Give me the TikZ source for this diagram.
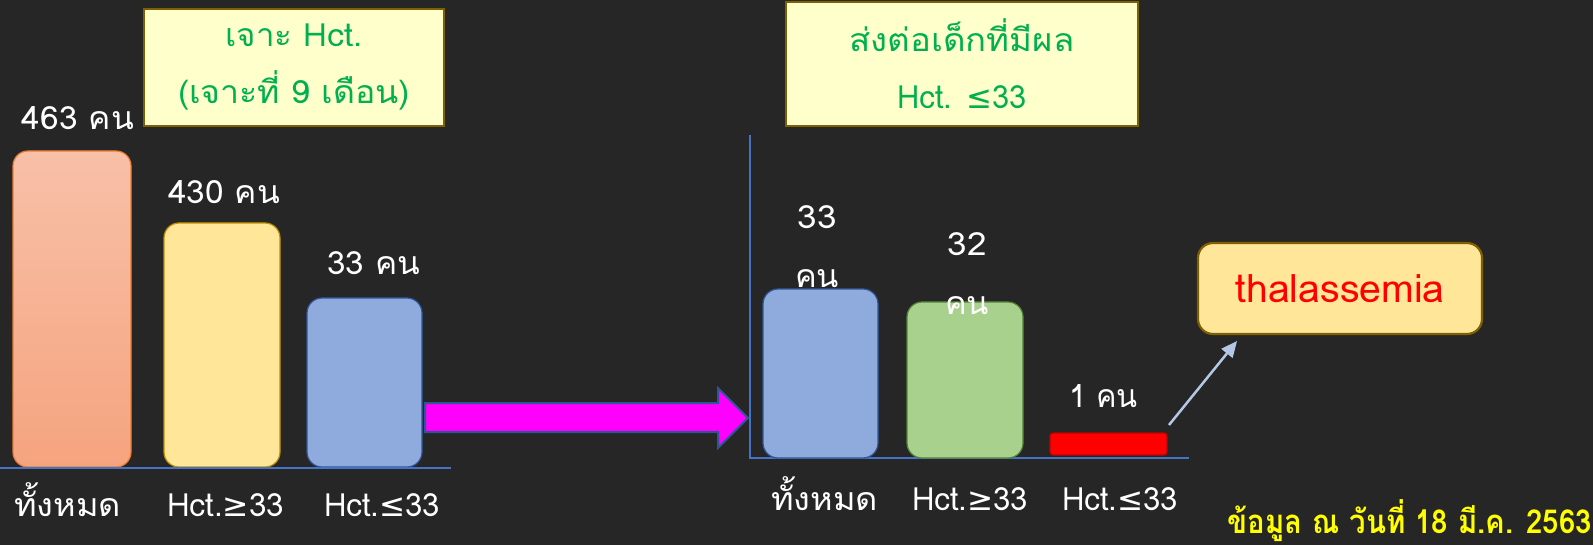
\documentclass[tikz,border=0pt]{standalone}
\usepackage{fontspec}
\usepackage{graphicx}
\setmainfont[Script=Thai]{Loma}
\newfontfamily\symf{DejaVu Sans}
\usetikzlibrary{arrows.meta}
\newcommand{\geqs}{{\symf ≥}}
\newcommand{\leqs}{{\symf ≤}}
\newcommand{\fitw}[2]{\resizebox{#1}{\height}{#2}}
\definecolor{bg}{HTML}{262626}
\definecolor{tgreen}{HTML}{00B050}
\definecolor{boxfill}{HTML}{FFFFCC}
\definecolor{boxdraw}{HTML}{7F6000}
\definecolor{salmontop}{HTML}{F8C0A8}
\definecolor{salmonbot}{HTML}{F5A47E}
\definecolor{salmondraw}{HTML}{ED7D31}
\definecolor{goldfill}{HTML}{FFE699}
\definecolor{golddraw}{HTML}{BF9000}
\definecolor{bluefill}{HTML}{8FAADC}
\definecolor{bluedraw}{HTML}{2F5597}
\definecolor{greenfill}{HTML}{A9D18E}
\definecolor{greendraw}{HTML}{548235}
\definecolor{reddraw}{HTML}{C00000}
\definecolor{axis}{HTML}{4472C4}
\definecolor{lightarrow}{HTML}{B4C7E7}
\definecolor{mag}{HTML}{FF00FF}
\definecolor{ylw}{HTML}{FFFF00}
\definecolor{tred}{HTML}{FF0000}
\tikzset{
  bar/.style={rounded corners=15pt, inner sep=0pt, line width=1.2pt},
  lbl/.style={text=white, inner sep=0pt, anchor=base, font=\fontsize{32}{59}\selectfont, align=center},
  infobox/.style={fill=boxfill, draw=boxdraw, line width=2.5pt, inner sep=0pt, text=tgreen, align=center, font=\fontsize{32}{57}\selectfont},
  axisline/.style={draw=axis, line width=1.3pt},
}
\begin{document}
\begin{tikzpicture}[x=1pt,y=-1pt]
\fill[bg] (0,0) rectangle (1593,545);
\useasboundingbox (0,0) rectangle (1593,545);

% left chart
\node[infobox, minimum width=300pt, minimum height=117pt] (box1) at (294,67.5) {\fitw{137pt}{เจาะ Hct.}\\\fitw{232pt}{(เจาะที่ 9 เดือน)}};
\node[bar, top color=salmontop, bottom color=salmonbot, draw=salmondraw, minimum width=118pt, minimum height=316pt] (b1) at (72,309) {};
\node[bar, fill=goldfill, draw=golddraw, minimum width=116pt, minimum height=244pt] (b2) at (222,345) {};
\node[bar, fill=bluefill, draw=bluedraw, minimum width=115pt, minimum height=169pt] (b3) at (364.5,382.5) {};
\coordinate (l0) at (0,468);
\coordinate (l1) at (451,468);
\draw[axisline] (l0) -- (l1);
\node[lbl] (v1) at (78,130) {\fitw{112pt}{463 คน}};
\node[lbl] (v2) at (224,204) {\fitw{112pt}{430 คน}};
\node[lbl] (v3) at (373.5,275) {\fitw{93pt}{33 คน}};
\node[lbl] (c1) at (67.5,516) {\fitw{107pt}{ทั้งหมด}};
\node[lbl] (c2) at (225.5,516) {\fitw{117pt}{Hct.\geqs33}};
\node[lbl] (c3) at (382,516) {\fitw{116pt}{Hct.\leqs33}};

% fat arrow
\draw[fill=mag, draw=bluedraw, line width=2pt, line join=miter]
  (425,403) -- (718,403) -- (718,388) -- (748,418) -- (718,448) -- (718,432) -- (425,432) -- cycle;

% right chart
\node[infobox, minimum width=352pt, minimum height=124pt] (box2) at (962,64) {\fitw{225pt}{ส่งต่อเด็กที่มีผล}\\\fitw{129pt}{Hct. \leqs33}};
\coordinate (r0) at (750,135);
\coordinate (r1) at (750,458);
\coordinate (r2) at (1189,458);
\draw[axisline] (r0) -- (r1) -- (r2);
\node[bar, fill=bluefill, draw=bluedraw, minimum width=115pt, minimum height=169pt] (b4) at (820.5,373.5) {};
\node[bar, fill=greenfill, draw=greendraw, minimum width=116pt, minimum height=156pt] (b5) at (965,380) {};
\node[bar, rounded corners=3pt, fill=tred, draw=reddraw, minimum width=117pt, minimum height=22pt] (b6) at (1108.5,444) {};
\node[lbl] (v4) at (817,288) {\fitw{39pt}{33}\\\fitw{44pt}{คน}};
\node[lbl] (v5) at (967,315) {\fitw{39pt}{32}\\\fitw{44pt}{คน}};
\node[lbl] (v6) at (1103.5,407) {\fitw{69pt}{1 คน}};
\node[lbl] (c4) at (824.5,510) {\fitw{107pt}{ทั้งหมด}};
\node[lbl] (c5) at (970,510) {\fitw{116pt}{Hct.\geqs33}};
\node[lbl] (c6) at (1120,510) {\fitw{116pt}{Hct.\leqs33}};

% thalassemia
\node[rounded corners=15pt, fill=goldfill, draw=boxdraw, line width=2.2pt, minimum width=284pt, minimum height=91pt, inner sep=0pt, text=tred, font=\fontsize{39}{44}\selectfont] (thal) at (1340,288.5) {\fitw{209pt}{thalassemia}};
\coordinate (a1) at (1169,425);
\coordinate (a2) at (1237,341);
\draw[draw=lightarrow, line width=2.5pt, -{Triangle[length=16pt,width=14pt]}] (a1) -- (a2);

% footnote
\node[text=ylw, inner sep=0pt, anchor=base east, font=\bfseries\fontsize{33}{38}\selectfont] (note) at (1592,533) {\fitw{364pt}{ข้อมูล ณ วันที่ 18 มี.ค. 2563}};
\end{tikzpicture}
\end{document}
